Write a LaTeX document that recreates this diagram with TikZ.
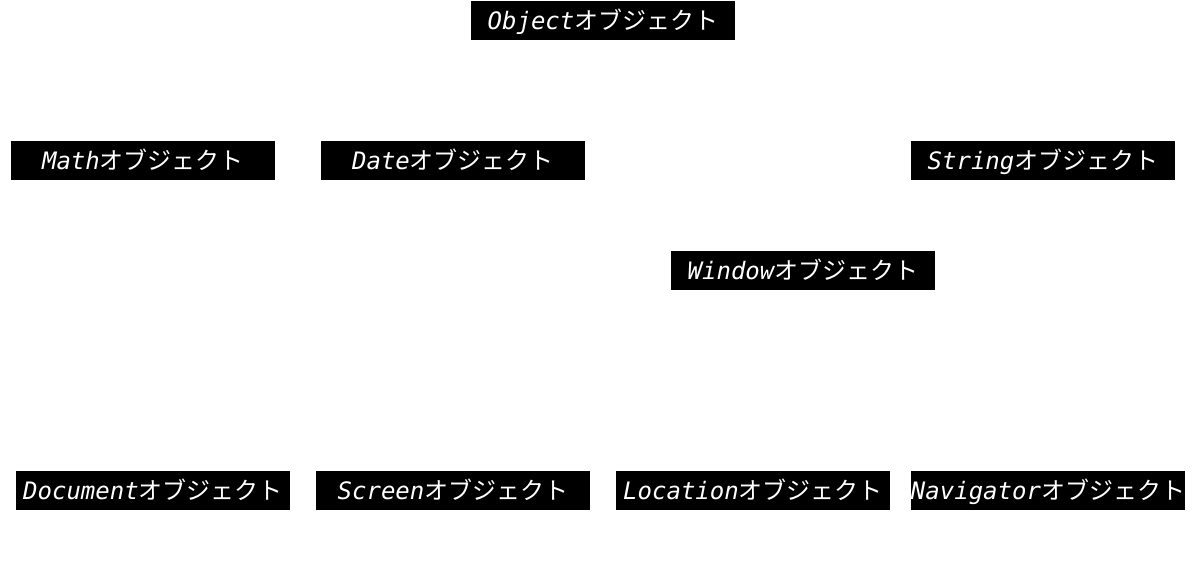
\documentclass[tikz,border=0pt]{standalone}
\usepackage{fontspec}
\usepackage{tikz}
\newfontfamily\objmono{DejaVu Sans Mono}[ItalicFont={DejaVu Sans Mono Oblique}]
\newfontfamily\jpfont{Noto Sans CJK JP}
\newcommand{\objlabel}[1]{{\objmono\itshape #1}{\jpfont オブジェクト}}

\begin{document}
\begin{tikzpicture}[x=0.75pt,y=-0.75pt,
  objbox/.style={fill=black,text=white,inner sep=0pt,minimum width=198pt,minimum height=29.25pt,text height=15.5pt,text depth=2.5pt,font=\fontsize{18}{20}\selectfont},
  widebox/.style={objbox,minimum width=205.5pt}]
\useasboundingbox (0,0) rectangle (1201,561);
\node[objbox] (Object) at (603,20.5) {\objlabel{Object}};
\foreach \nm/\x/\y in {Math/143/160.5,Date/453/160.5,String/1043/160.5,Window/803/270.5}{\node[objbox] (\nm) at (\x,\y) {\objlabel{\nm}};}
\foreach \nm/\x in {Document/153,Screen/453,Location/753,Navigator/1048}{\node[widebox] (\nm) at (\x,490.5) {\objlabel{\nm}};}
\end{tikzpicture}
\end{document}
